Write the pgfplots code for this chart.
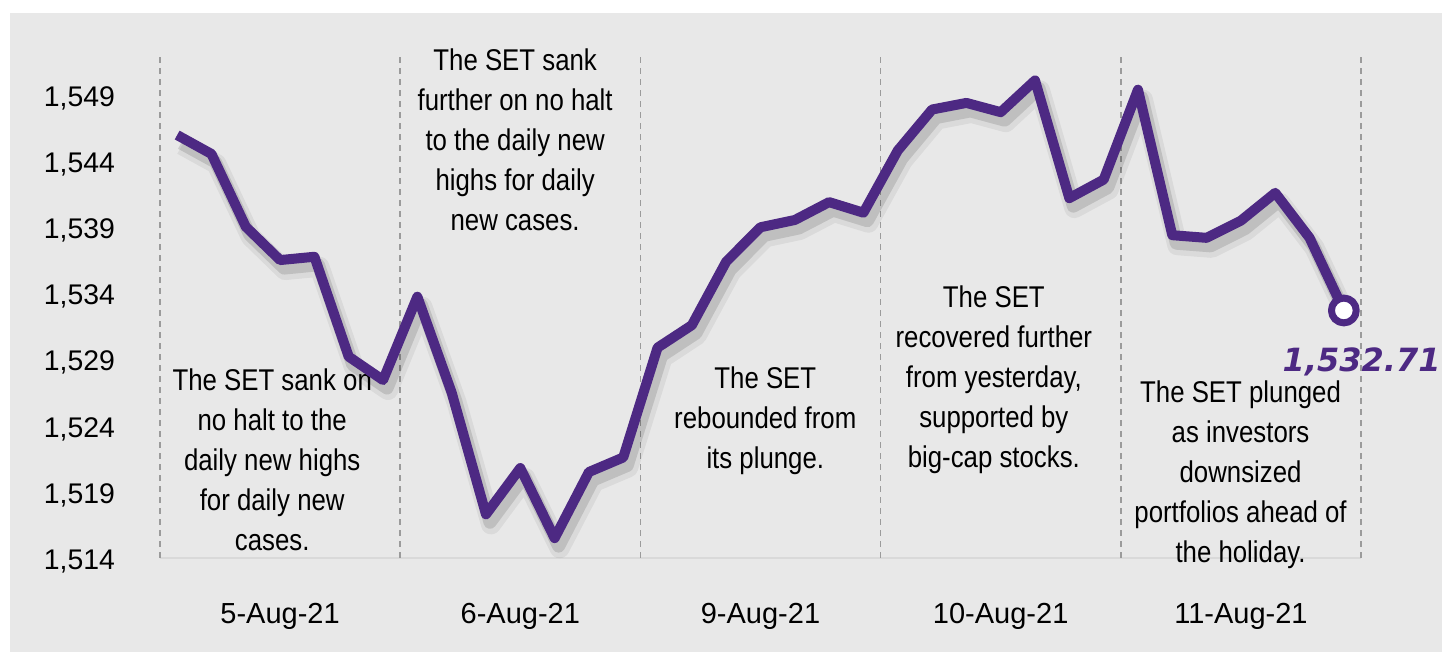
\documentclass[border=0pt]{standalone}
\usepackage{fontspec}
\setmainfont{Liberation Sans}
\newfontfamily\condfont[FakeStretch=0.86]{Liberation Sans}
\newfontfamily\valfont{DejaVu Sans}
\usepackage{pgfplots}
\usepackage{pgfplotstable}
\pgfplotsset{compat=1.18}
\definecolor{setpurple}{RGB}{77,41,131}
\definecolor{panel}{RGB}{232,232,232}
\definecolor{dashgray}{RGB}{155,155,155}

% SET index, intraday points over 5 sessions (7 per day)
\pgfplotstableread{
x y
0 1545.97
1 1544.54
2 1539.04
3 1536.52
4 1536.77
5 1529.22
6 1527.45
7 1533.75
8 1526.5
9 1517.3
10 1520.8
11 1515.5
12 1520.5
13 1521.6
14 1529.9
15 1531.6
16 1536.4
17 1539.0
18 1539.55
19 1540.9
20 1540.1
21 1544.8
22 1547.9
23 1548.4
24 1547.7
25 1550.1
26 1541.2
27 1542.6
28 1549.4
29 1538.4
30 1538.2
31 1539.5
32 1541.6
33 1538.2
34 1532.71
}\setdata

\begin{document}
\begin{tikzpicture}
\useasboundingbox (0,0) rectangle (722.5pt,326.5pt);
\fill[white] (0,0) rectangle (722.5pt,326.5pt);
\fill[panel] (5pt,0.5pt) rectangle (721pt,320pt);
\begin{axis}[
    at={(80pt,47.5pt)}, anchor=south west,
    scale only axis, width=600.5pt, height=250.5pt,
    xmin=-0.5, xmax=34.5, ymin=1514, ymax=1551.87,
    clip=false,
    axis x line*=bottom, axis y line*=left,
    x axis line style={draw=black!15, line width=0.8pt, -},
    y axis line style={draw=none},
    tick style={draw=none}, major tick length=0pt,
    xtick={3,10,17,24,31},
    xticklabels={5-Aug-21,6-Aug-21,9-Aug-21,10-Aug-21,11-Aug-21},
    ytick={1514,1519,...,1549},
    /pgf/number format/1000 sep={,},
    /pgf/number format/assume math mode=true,
    yticklabel style={font=\fontsize{14.2}{16}\selectfont, text=black, xshift=-19pt, yshift=-1.6pt},
    xticklabel style={font=\fontsize{14.5}{16}\selectfont, text=black, yshift=-19pt},
    extra x ticks={-0.5,6.5,13.5,20.5,27.5,34.5},
    extra x tick labels={},
    extra x tick style={grid=major,
        major grid style={dashgray, dash pattern=on 3pt off 2.5pt, line width=0.75pt}},
]
% annotations (behind the line)
\begin{scope}[every node/.style={font=\condfont\fontsize{15}{20}\selectfont, align=center, text=black}]
\node at (axis cs:2.77,1521.4) {The SET sank on\\no halt to the\\daily new highs\\for daily new\\cases.};
\node at (axis cs:9.85,1545.6) {The SET sank\\further on no halt\\to the daily new\\highs for daily\\new cases.};
\node at (axis cs:17.14,1524.4) {The SET\\rebounded from\\its plunge.};
\node at (axis cs:23.8,1527.45) {The SET\\recovered further\\from yesterday,\\supported by\\big-cap stocks.};
\node at (axis cs:30.99,1520.27) {The SET plunged\\as investors\\downsized\\portfolios ahead of\\the holiday.};
\end{scope}

% soft shadow
\addplot[draw=black, opacity=0.06, line width=10pt, line join=round, xshift=2.5pt, yshift=-5pt] table {\setdata};
\addplot[draw=black, opacity=0.12, line width=6.5pt, line join=round, xshift=2pt, yshift=-4pt] table {\setdata};

\addplot[setpurple, line width=5pt, line join=round,
    mark=*, mark indices={35}, mark size=6.2pt,
    mark options={fill=white, draw=setpurple, line width=3.5pt}] table {\setdata};

\node[font=\valfont\bfseries\itshape\fontsize{16}{18}\selectfont, text=setpurple]
    at (axis cs:34.52,1528.8) {1,532.71};
\end{axis}
\end{tikzpicture}
\end{document}
